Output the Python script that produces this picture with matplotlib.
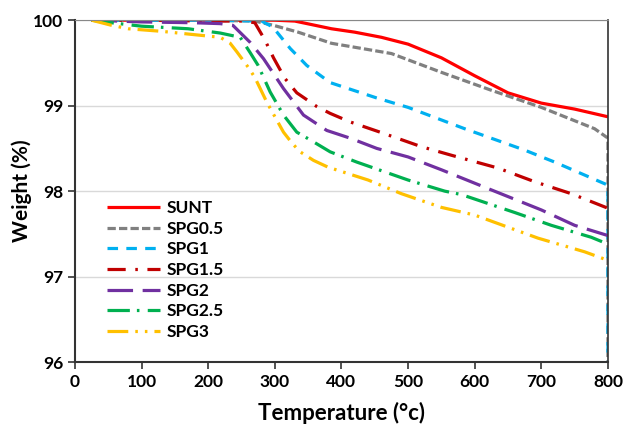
import matplotlib
matplotlib.use("Agg")
import matplotlib.pyplot as plt

plt.rcParams['font.family'] = ['Lato', 'DejaVu Sans']
plt.rcParams['font.weight'] = 'bold'

labels = ["SUNT", "SPG0.5", "SPG1", "SPG1.5", "SPG2", "SPG2.5", "SPG3"]
colors = ["#ff0000", "#808080", "#00b0f0", "#c00000", "#7030a0", "#00b050", "#ffc000"]

t_sunt = [25, 100, 200, 300, 330, 385, 420, 460, 500, 550, 600, 650, 700, 750, 800]
w_sunt = [100.0, 100.0, 100.0, 100.0, 99.99, 99.9, 99.86, 99.8, 99.72, 99.56, 99.35, 99.15, 99.03, 98.96, 98.87]

t_spg05 = [25, 100, 200, 270, 298, 335, 385, 430, 475, 550, 625, 700, 780, 800, 800]
w_spg05 = [100.0, 100.0, 100.0, 99.99, 99.94, 99.86, 99.73, 99.67, 99.61, 99.39, 99.18, 98.98, 98.73, 98.62, 95.0]

t_spg1 = [25, 100, 200, 280, 297, 323, 348, 383, 418, 453, 500, 585, 675, 720, 800, 800]
w_spg1 = [100.0, 100.0, 100.0, 99.99, 99.92, 99.67, 99.47, 99.27, 99.18, 99.09, 98.98, 98.73, 98.48, 98.34, 98.07, 95.0]

t_spg15 = [25, 100, 200, 255, 270, 285, 298, 315, 333, 363, 383, 413, 458, 520, 565, 635, 690, 745, 800]
w_spg15 = [100.0, 100.0, 99.99, 99.99, 99.97, 99.77, 99.56, 99.32, 99.15, 98.99, 98.91, 98.81, 98.69, 98.52, 98.42, 98.27, 98.11, 97.97, 97.8]

t_spg2 = [25, 100, 180, 218, 237, 263, 283, 313, 343, 378, 413, 453, 500, 550, 620, 700, 750, 800]
w_spg2 = [100.0, 99.98, 99.97, 99.96, 99.94, 99.74, 99.55, 99.2, 98.89, 98.71, 98.62, 98.5, 98.4, 98.25, 98.03, 97.78, 97.6, 97.48]

t_spg25 = [25, 55, 100, 170, 218, 248, 263, 275, 293, 313, 333, 353, 383, 423, 500, 555, 580, 660, 715, 775, 800]
w_spg25 = [100.0, 99.97, 99.93, 99.9, 99.85, 99.8, 99.62, 99.47, 99.16, 98.89, 98.69, 98.6, 98.46, 98.34, 98.13, 98.0, 97.96, 97.75, 97.6, 97.46, 97.38]

t_spg3 = [25, 55, 80, 130, 218, 233, 243, 260, 270, 288, 313, 326, 338, 358, 380, 440, 490, 550, 600, 695, 765, 800]
w_spg3 = [100.0, 99.94, 99.9, 99.87, 99.8, 99.73, 99.63, 99.45, 99.33, 99.04, 98.69, 98.56, 98.46, 98.36, 98.28, 98.13, 97.97, 97.81, 97.72, 97.45, 97.29, 97.19]

xs = [t_sunt, t_spg05, t_spg1, t_spg15, t_spg2, t_spg25, t_spg3]
ys = [w_sunt, w_spg05, w_spg1, w_spg15, w_spg2, w_spg25, w_spg3]

x_ticks = [0, 100, 200, 300, 400, 500, 600, 700, 800]
y_ticks = [96, 97, 98, 99, 100]

lw = 2.3
dashes = [None, (2.6, 1.0), (3.3, 2.6), (5.7, 3.0, 0.8, 3.0), (8.0, 3.0),
          (7.0, 2.2, 0.8, 2.6), (6.5, 2.2, 0.8, 2.2, 0.8, 2.2)]

fig = plt.figure(figsize=(6.3, 4.3), dpi=100)
ax = fig.add_axes([0.119, 0.158, 0.846, 0.795])

for x, y, lab, c, d in zip(xs, ys, labels, colors, dashes):
    line, = ax.plot(x, y, color=c, lw=lw, label=lab, solid_capstyle='butt')
    if d is not None:
        line.set_dashes(d)

ax.set_xlim(0, 800)
ax.set_ylim(96, 100)
ax.set_xticks(x_ticks)
ax.set_yticks(y_ticks)
ax.grid(axis='y', color='#d9d9d9', lw=1)
ax.set_axisbelow(True)
for s in ['left', 'bottom']:
    ax.spines[s].set_color('#333333')
    ax.spines[s].set_linewidth(1.5)
ax.spines['top'].set_color('#888888')
ax.spines['right'].set_color('#333333')
ax.spines['right'].set_linewidth(1.2)
ax.tick_params(axis='both', labelsize=12.5, direction='out', length=5, width=1.2, color='#333333')
ax.set_xlabel("Temperature (°c)", fontsize=16, fontweight='bold', labelpad=9)
ax.set_ylabel("Weight (%)", fontsize=15, fontweight='bold', labelpad=1)

ax.legend(loc='upper left', bbox_to_anchor=(0.06, 0.474), frameon=False, fontsize=12.5,
          handlelength=3.05, labelspacing=0.27, handletextpad=0.4, borderaxespad=0, borderpad=0)

fig.savefig("out.png", dpi=100)
